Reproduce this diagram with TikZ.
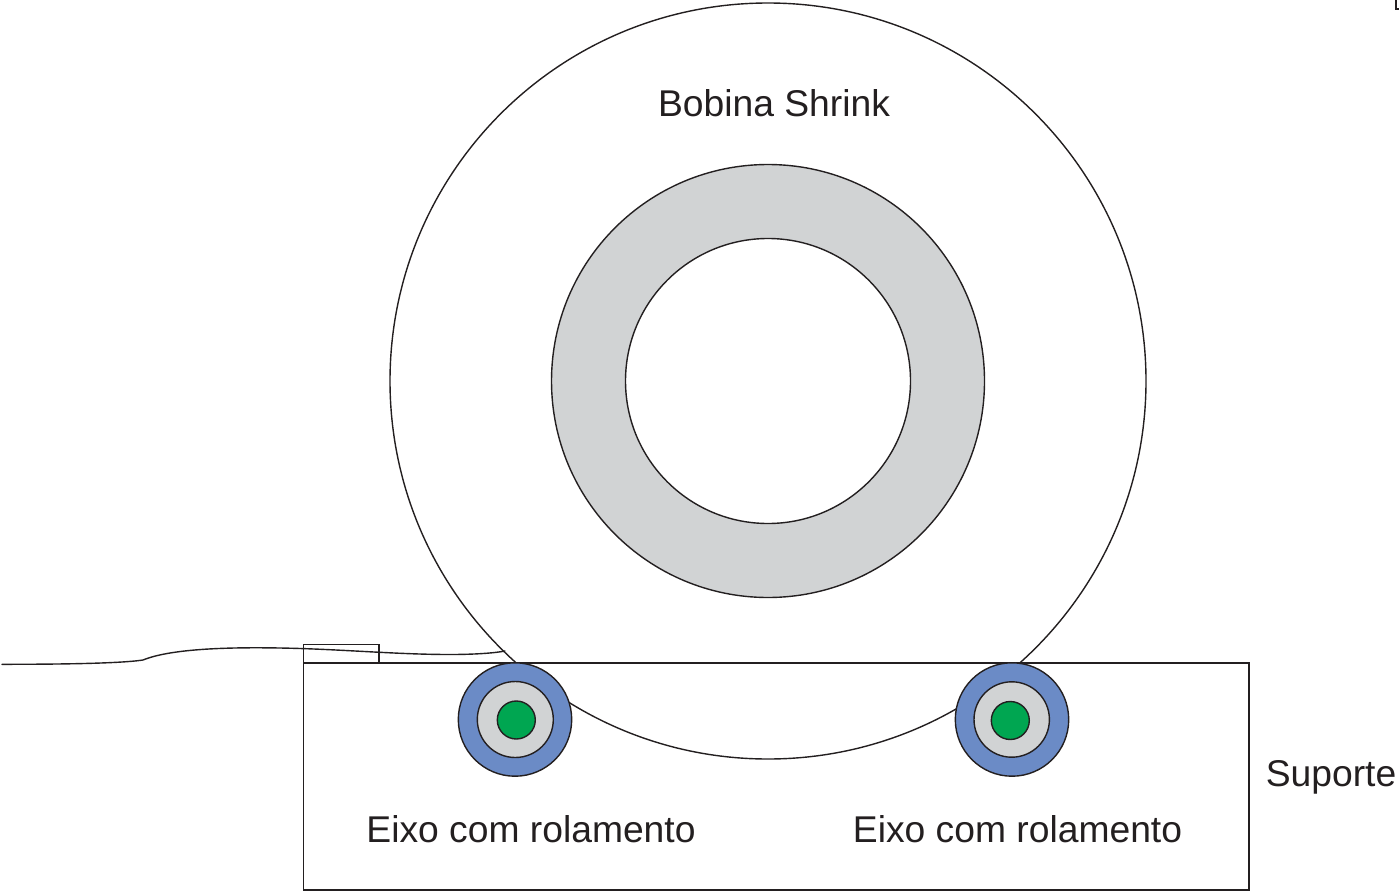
\documentclass[tikz,border=0pt]{standalone}
\usepackage{fontspec}
\setmainfont{Liberation Sans}
\definecolor{ink}{HTML}{231F20}
\definecolor{hubgray}{HTML}{D1D3D4}
\definecolor{bearingblue}{HTML}{6B8BC6}
\definecolor{shaftgreen}{HTML}{00A651}
\tikzset{
  outline/.style={draw=ink,line width=1.4pt},
  lab/.style={inner sep=0pt,anchor=base,text=ink,font=\fontsize{37.25}{44}\selectfont},
}
\begin{document}
\begin{tikzpicture}[x=1pt,y=-1pt]
\useasboundingbox (0,0) rectangle (1399,891);
% support and film box
\draw[outline] (303.5,663) rectangle (1249,890);
\draw[outline] (303.5,644.5) rectangle (379,663);
% coil
\draw[outline] (768,381) circle[radius=378];
\draw[outline,fill=hubgray] (768,381) circle[radius=216.5];
\draw[outline,fill=white] (768,381) circle[radius=142.5];
% film tail
\draw[outline,line cap=round] (2,664.3) .. controls (60,664.3) and (120,663.5) .. (143,660)
  .. controls (170,649) and (225,647) .. (280,648)
  .. controls (340,649) and (395,654.5) .. (450,654.5)
  .. controls (475,654.5) and (495,653) .. (505,651);
% left bearing
\draw[outline,fill=bearingblue] (515,719.5) circle[radius=56.7];
\draw[outline,fill=hubgray] (515.3,719.5) circle[radius=38];
\draw[outline,fill=shaftgreen] (516.3,720) circle[radius=19];
% right bearing
\draw[outline,fill=bearingblue] (1012,719.5) circle[radius=56.7];
\draw[outline,fill=hubgray] (1011.7,719.5) circle[radius=37.7];
\draw[outline,fill=shaftgreen] (1010.3,720.5) circle[radius=19];
% corner mark
\draw[outline,line width=2pt] (1399,9.5) -- (1396,9.5) -- (1396,0);
% labels
\node[lab] (coil) at (774,116) {Bobina Shrink};
\node[lab] (axisL) at (531,842) {Eixo com rolamento};
\node[lab] (axisR) at (1017.5,842) {Eixo com rolamento};
\node[lab] (sup) at (1331,786) {Suporte};
\end{tikzpicture}
\end{document}
